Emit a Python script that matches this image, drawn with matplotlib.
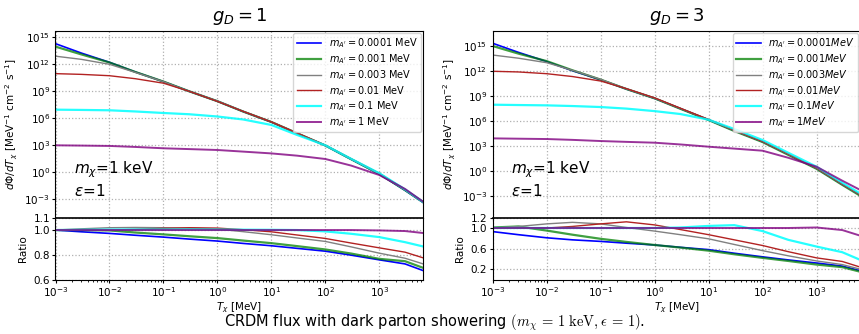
import numpy as np
import matplotlib
matplotlib.use("Agg")
import matplotlib.pyplot as plt

# kinetic energy grid [MeV]
T = [1e-3, 3e-3, 1e-2, 3e-2, 0.1, 0.3, 1, 3, 10, 30, 100, 300, 1000, 3000, 6500]

masses = ['0.0001', '0.001', '0.003', '0.01', '0.1', '1']
colors = ['blue', 'green', 'gray', 'firebrick', 'cyan', 'purple']
widths = [1.2, 1.6, 1.0, 1.0, 1.6, 1.4]
alphas = [1.0, 0.75, 1.0, 1.0, 0.85, 0.8]

# g_D = 1 : log10 flux
flux1_0001 = [14.29, 13.25, 12.22, 11.15, 10.07, 9.0, 7.9, 6.75, 5.58, 4.33, 2.97, 1.45, -0.2, -2.0, -3.35]
flux1_001 = [13.96, 13.1, 12.2, 11.15, 10.08, 9.0, 7.9, 6.75, 5.59, 4.34, 2.98, 1.46, -0.18, -1.98, -3.33]
flux1_003 = [12.9, 12.55, 12.0, 11.1, 10.07, 9.0, 7.92, 6.77, 5.6, 4.35, 3.0, 1.48, -0.15, -1.95, -3.3]
flux1_01 = [10.96, 10.88, 10.73, 10.4, 9.9, 9.0, 7.88, 6.77, 5.6, 4.36, 3.0, 1.5, -0.12, -1.92, -3.28]
flux1_1 = [6.96, 6.93, 6.89, 6.76, 6.59, 6.45, 6.2, 5.87, 5.26, 4.15, 3.0, 1.5, -0.1, -1.9, -3.3]
flux1_10 = [3.0, 2.97, 2.93, 2.82, 2.67, 2.58, 2.48, 2.3, 2.1, 1.85, 1.48, 0.75, -0.3, -1.85, -3.27]

# g_D = 1 : ratio
ratio1_0001 = [1.0, 0.986, 0.973, 0.958, 0.943, 0.927, 0.911, 0.892, 0.873, 0.852, 0.829, 0.797, 0.759, 0.726, 0.672]
ratio1_001 = [1.0, 1.0, 0.997, 0.98, 0.965, 0.95, 0.935, 0.915, 0.894, 0.87, 0.843, 0.81, 0.767, 0.748, 0.694]
ratio1_003 = [1.0, 1.01, 1.019, 1.021, 1.019, 1.015, 1.008, 0.987, 0.962, 0.936, 0.908, 0.864, 0.813, 0.772, 0.726]
ratio1_01 = [1.0, 1.0, 1.0, 1.006, 1.014, 1.019, 1.016, 1.003, 0.986, 0.96, 0.932, 0.895, 0.856, 0.821, 0.775]
ratio1_1 = [1.0, 1.002, 1.004, 1.005, 1.005, 1.005, 1.004, 1.003, 1.002, 1.0, 0.989, 0.97, 0.943, 0.902, 0.867]
ratio1_10 = [1.0, 1.0, 1.0, 1.0, 1.0, 1.0, 1.0, 1.0, 1.0, 1.0, 1.0, 1.0, 0.997, 0.992, 0.976]

# g_D = 3 : log10 flux
flux3_0001 = [15.29, 14.2, 13.1, 12.0, 10.9, 9.8, 8.68, 7.45, 6.1, 4.8, 3.48, 1.95, 0.28, -1.65, -2.95]
flux3_001 = [14.96, 14.05, 13.15, 12.05, 10.93, 9.8, 8.68, 7.43, 6.08, 4.76, 3.44, 1.9, 0.23, -1.7, -3.02]
flux3_003 = [13.88, 13.5, 12.96, 12.05, 10.96, 9.82, 8.7, 7.47, 6.12, 4.82, 3.5, 1.97, 0.3, -1.63, -2.93]
flux3_01 = [11.93, 11.85, 11.64, 11.3, 10.76, 9.85, 8.74, 7.5, 6.15, 4.85, 3.52, 2.0, 0.33, -1.6, -2.9]
flux3_1 = [7.92, 7.88, 7.84, 7.76, 7.64, 7.45, 7.15, 6.8, 6.12, 5.0, 3.68, 2.15, 0.48, -1.45, -2.75]
flux3_10 = [3.88, 3.84, 3.8, 3.7, 3.56, 3.46, 3.36, 3.15, 2.88, 2.65, 2.4, 1.55, 0.48, -1.2, -2.32]

# g_D = 3 : ratio
ratio3_0001 = [0.93, 0.87, 0.81, 0.77, 0.74, 0.705, 0.67, 0.625, 0.58, 0.51, 0.44, 0.38, 0.32, 0.26, 0.17]
ratio3_001 = [1.01, 1.03, 0.95, 0.87, 0.79, 0.73, 0.67, 0.62, 0.56, 0.49, 0.42, 0.36, 0.29, 0.24, 0.15]
ratio3_003 = [1.0, 1.03, 1.08, 1.11, 1.08, 1.01, 0.94, 0.87, 0.79, 0.68, 0.56, 0.46, 0.36, 0.29, 0.2]
ratio3_01 = [1.0, 1.0, 1.0, 1.03, 1.08, 1.12, 1.06, 0.97, 0.87, 0.77, 0.66, 0.54, 0.42, 0.35, 0.24]
ratio3_1 = [1.0, 1.0, 1.0, 1.0, 1.0, 1.0, 1.0, 1.01, 1.04, 1.055, 0.94, 0.77, 0.64, 0.53, 0.38]
ratio3_10 = [1.0, 1.0, 1.0, 1.0, 1.0, 1.0, 1.0, 1.0, 1.0, 1.0, 1.0, 1.0, 1.01, 0.96, 0.85]

flux1 = [flux1_0001, flux1_001, flux1_003, flux1_01, flux1_1, flux1_10]
ratio1 = [ratio1_0001, ratio1_001, ratio1_003, ratio1_01, ratio1_1, ratio1_10]
flux3 = [flux3_0001, flux3_001, flux3_003, flux3_01, flux3_1, flux3_10]
ratio3 = [ratio3_0001, ratio3_001, ratio3_003, ratio3_01, ratio3_1, ratio3_10]

W, H = 859, 334
fig = plt.figure(figsize=(W / 100, H / 100), dpi=100)

gridkw = dict(color='#b0b0b0', linestyle=':', linewidth=0.9)
tickkw = dict(labelsize=7.5, length=2.5, pad=1.5)


def panel(x0, title, fluxes, ratios, ylim, rlim, rticks, labfmt):
    w = 367.7 / W
    ax = fig.add_axes([x0, 1 - 217.7 / H, w, 187 / H])
    axr = fig.add_axes([x0, 1 - 279.5 / H, w, 61.8 / H], sharex=ax)
    for m, c, lw, a, f, r in zip(masses, colors, widths, alphas, fluxes, ratios):
        ax.plot(T, 10 ** np.array(f), color=c, lw=lw, alpha=a, label=labfmt % m)
        axr.plot(T, r, color=c, lw=lw, alpha=a)
    ax.set_xscale('log')
    ax.set_yscale('log')
    ax.set_xlim(1e-3, 6.5e3)
    ax.set_ylim(*ylim)
    ax.grid(True, **gridkw)
    ax.tick_params(labelbottom=False, **tickkw)
    ax.tick_params(which='minor', length=1.5)
    ax.set_title(title, fontsize=13, pad=7)
    ax.set_ylabel(r'$d\Phi/dT_\chi$ [MeV$^{-1}$ cm$^{-2}$ s$^{-1}$]', fontsize=7.5, labelpad=3)
    ax.text(0.05, 0.1, '$m_\\chi$=1 keV\n$\\epsilon$=1', transform=ax.transAxes,
            fontsize=11, va='bottom', ha='left', linespacing=1.2)
    ax.legend(loc='upper right', fontsize=7, handlelength=2.5, borderaxespad=0.25,
              labelspacing=0.2, borderpad=0.35)
    axr.set_ylim(*rlim)
    axr.set_yticks(rticks)
    axr.grid(True, **gridkw)
    axr.tick_params(**tickkw)
    axr.tick_params(which='minor', length=1.5)
    axr.set_ylabel('Ratio', fontsize=7.5, labelpad=4)
    axr.set_xlabel(r'$T_\chi$ [MeV]', fontsize=7.5, labelpad=1)
    axr.spines['top'].set_linewidth(1.2)
    return ax, axr


panel(55.5 / W, '$g_D = 1$', flux1, ratio1, (10 ** -5.04, 10 ** 15.73),
      (0.6, 1.1), [0.6, 0.8, 1.0, 1.1], r'$m_{A^\prime} = %s$ MeV')
panel(492.7 / W, '$g_D = 3$', flux3, ratio3, (10 ** -5.64, 10 ** 16.8),
      (0.0, 1.2), [0.2, 0.6, 1.0, 1.2], r'$m_{A^\prime} = %sMeV$')

fig.text(0.506, 0.033, r'CRDM flux with dark parton showering $(m_\chi\,=\,1\ \mathrm{keV}, \epsilon\,=\,1)$.',
         ha='center', va='center', fontsize=10.5, math_fontfamily='cm')

fig.savefig('out.png', dpi=100)
